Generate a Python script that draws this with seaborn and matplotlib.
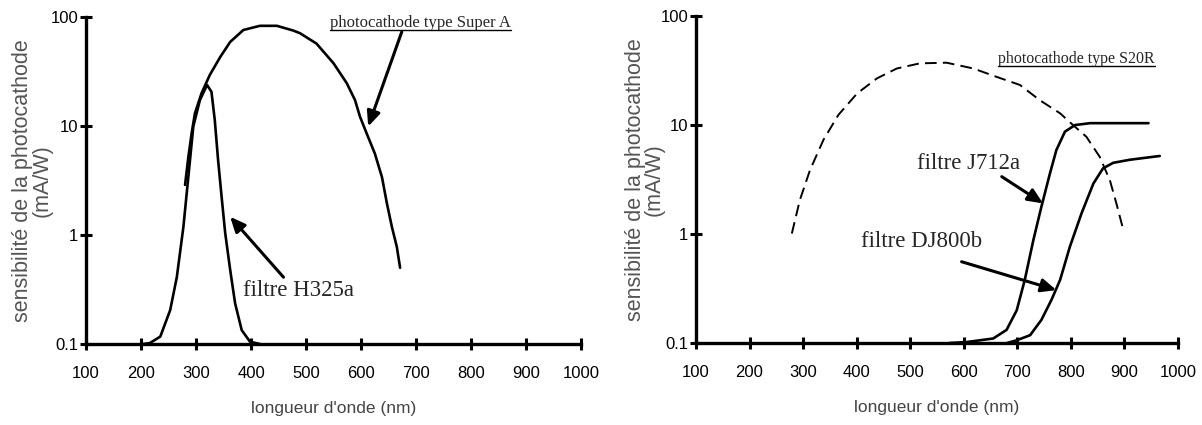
import matplotlib
matplotlib.use('Agg')
import matplotlib.pyplot as plt
import pandas as pd
import seaborn as sns
from matplotlib.lines import Line2D

# left panel: photocathode Super A and filter H325a
supera_nm = [280, 286, 292, 298, 310, 325, 344, 362, 386, 416, 447, 477, 489, 519,
             550, 574, 589, 598, 610, 625, 638, 647, 656, 665, 671]
supera_val = [2.88, 5.2, 8.6, 13.1, 20, 29.4, 43, 59, 76, 83, 83, 75, 71, 57,
              37.6, 24.7, 17.3, 12.2, 8.6, 5.6, 3.4, 1.95, 1.19, 0.78, 0.5]

h325_nm = [204, 216, 235, 253, 265, 277, 286, 295, 307, 320, 328, 334, 340, 347,
           353, 362, 371, 383, 398, 416]
h325_val = [0.1, 0.102, 0.117, 0.205, 0.41, 1.19, 3.43, 9.9, 17.3, 23.8, 20.6, 11.4,
            4.9, 2.1, 1.04, 0.48, 0.236, 0.134, 0.105, 0.1]

# right panel: photocathode S20R (dashed), filters J712a and DJ800b
s20r_nm = [279, 294, 313, 338, 366, 401, 438, 475, 518, 568, 618, 661, 705, 742,
           780, 804, 829, 854, 873, 885, 898]
s20r_val = [1.01, 2.05, 3.87, 7.3, 12.4, 19.5, 26.8, 33, 36.8, 37.3, 33, 27.7, 23.3, 16.9,
            12.8, 10, 7.8, 5.1, 3.1, 1.91, 1.09]

j712_nm = [573, 605, 655, 680, 699, 714, 730, 745, 761, 773, 789, 808, 836, 945]
j712_val = [0.1, 0.102, 0.11, 0.132, 0.2, 0.38, 0.88, 1.78, 3.6, 5.9, 8.7, 10, 10.4, 10.4]

dj800_nm = [681, 699, 724, 745, 764, 780, 798, 820, 842, 860, 879, 910, 966]
dj800_val = [0.1, 0.106, 0.118, 0.163, 0.25, 0.38, 0.76, 1.55, 2.9, 4.0, 4.5, 4.8, 5.2]

x_ticks = [100, 200, 300, 400, 500, 600, 700, 800, 900, 1000]
y_ticks = [0.1, 1, 10, 100]
y_ticklabels = ['0.1', '1', '10', '100']

sns.set_style('ticks')
plt.rcParams['font.family'] = ['Liberation Sans', 'DejaVu Sans']

fig = plt.figure(figsize=(12.02, 4.25), dpi=100)
ax1 = fig.add_axes([0.0716, 0.1906, 0.4118, 0.7694])
ax2 = fig.add_axes([0.5790, 0.1929, 0.4010, 0.7694])

serif = ['Liberation Serif', 'DejaVu Serif']


def style_axis(ax, label_x):
    ax.set_yscale('log')
    ax.set_xlim(100, 1000)
    ax.set_ylim(0.1, 100)
    ax.set_xticks(x_ticks)
    ax.set_xticklabels([str(t) for t in x_ticks], fontsize=12)
    ax.set_yticks(y_ticks)
    ax.set_yticklabels(y_ticklabels, fontsize=12)
    ax.minorticks_off()
    sns.despine(ax=ax)
    for s in ['left', 'bottom']:
        ax.spines[s].set_linewidth(2.4)
        ax.spines[s].set_color('black')
    ax.tick_params(axis='x', direction='inout', length=8, width=2.2, pad=12, colors='black')
    ax.tick_params(axis='y', direction='inout', length=8, width=2.2, pad=1.5, colors='black')
    ax.set_xlabel("longueur d'onde (nm)", fontsize=12.5, color='#444444', labelpad=14)
    ax.set_ylabel('sensibilité de la photocathode\n(mA/W)', fontsize=15.5, color='#555555',
                  linespacing=0.9, va='center')
    ax.yaxis.set_label_coords(label_x, 0.5)
    ax.patch.set_alpha(0)


df_a = pd.DataFrame({'nm': supera_nm, 'val': supera_val})
df_h = pd.DataFrame({'nm': h325_nm, 'val': h325_val})
sns.lineplot(data=df_a, x='nm', y='val', ax=ax1, color='black', lw=1.9, sort=False)
sns.lineplot(data=df_h, x='nm', y='val', ax=ax1, color='black', lw=1.9, sort=False)
style_axis(ax1, -0.109)

df_s = pd.DataFrame({'nm': s20r_nm, 'val': s20r_val})
df_j = pd.DataFrame({'nm': j712_nm, 'val': j712_val})
df_d = pd.DataFrame({'nm': dj800_nm, 'val': dj800_val})
sns.lineplot(data=df_s, x='nm', y='val', ax=ax2, color='black', lw=1.4, linestyle=(0, (6, 3.2)))
sns.lineplot(data=df_j, x='nm', y='val', ax=ax2, color='black', lw=1.9)
sns.lineplot(data=df_d, x='nm', y='val', ax=ax2, color='black', lw=1.9)
style_axis(ax2, -0.106)

arrow = dict(arrowstyle='-|>,head_length=0.9,head_width=0.4', color='black', lw=2.2,
             shrinkA=0, shrinkB=0)

t1 = ax1.text(544, 88, 'photocathode type Super A', family=serif, fontsize=12,
              va='center', ha='left')
ax1.annotate('', xy=(613, 9.9), xytext=(674, 73), arrowprops=arrow)
ax1.text(386, 0.31, 'filtre H325a', family=serif, fontsize=16.5, va='center', ha='left')
ax1.annotate('', xy=(362, 1.47), xytext=(459, 0.41), arrowprops=arrow)

t2 = ax2.text(664, 40, 'photocathode type S20R', family=serif, fontsize=11.5,
              va='center', ha='left')
ax2.text(512, 4.45, 'filtre J712a', family=serif, fontsize=16.5, va='center', ha='left')
ax2.annotate('', xy=(748, 1.91), xytext=(671, 3.36), arrowprops=arrow)
ax2.text(409, 0.85, 'filtre DJ800b', family=serif, fontsize=16.5, va='center', ha='left')
ax2.annotate('', xy=(773, 0.306), xytext=(596, 0.557), arrowprops=arrow)

# underline the photocathode titles
fig.canvas.draw()
for t in (t1, t2):
    bb = t.get_window_extent()
    y = bb.y0 + 1
    fig.add_artist(Line2D([bb.x0, bb.x1], [y, y], transform=None, color='black', lw=1))

fig.savefig('out.png', dpi=100)
